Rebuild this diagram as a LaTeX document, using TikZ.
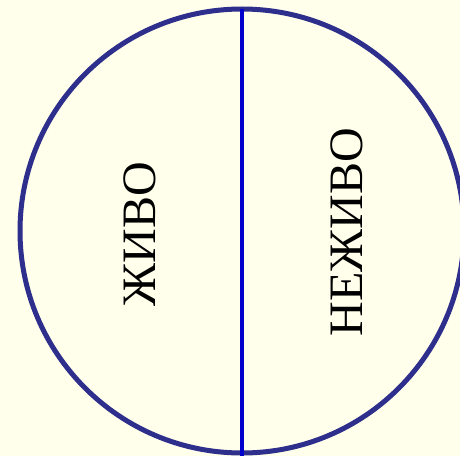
\documentclass[tikz,border=0pt]{standalone}
\usepackage{fontspec}
\setmainfont{Liberation Serif}
\definecolor{paper}{HTML}{FFFFEB}
\definecolor{rim}{HTML}{2E2E8C}
\definecolor{split}{HTML}{0000CC}
\tikzset{word/.style={rotate=90,font=\fontsize{48}{54}\selectfont}}
\begin{document}
\begin{tikzpicture}[x=1pt,y=1pt]
\fill[paper] (0,0) rectangle (460,456);
\useasboundingbox (0,0) rectangle (460,456);
\coordinate (c) at (242,225);
\coordinate (top) at (242,447);
\coordinate (bot) at (242,0);
\draw[rim,line width=5pt] (c) circle (222);
\draw[split,line width=3.5pt] (top) -- (bot);
\node[word] (alive) at (140,222) {ЖИВО};
\node[word] (dead) at (347,224) {НЕЖИВО};
\end{tikzpicture}
\end{document}
